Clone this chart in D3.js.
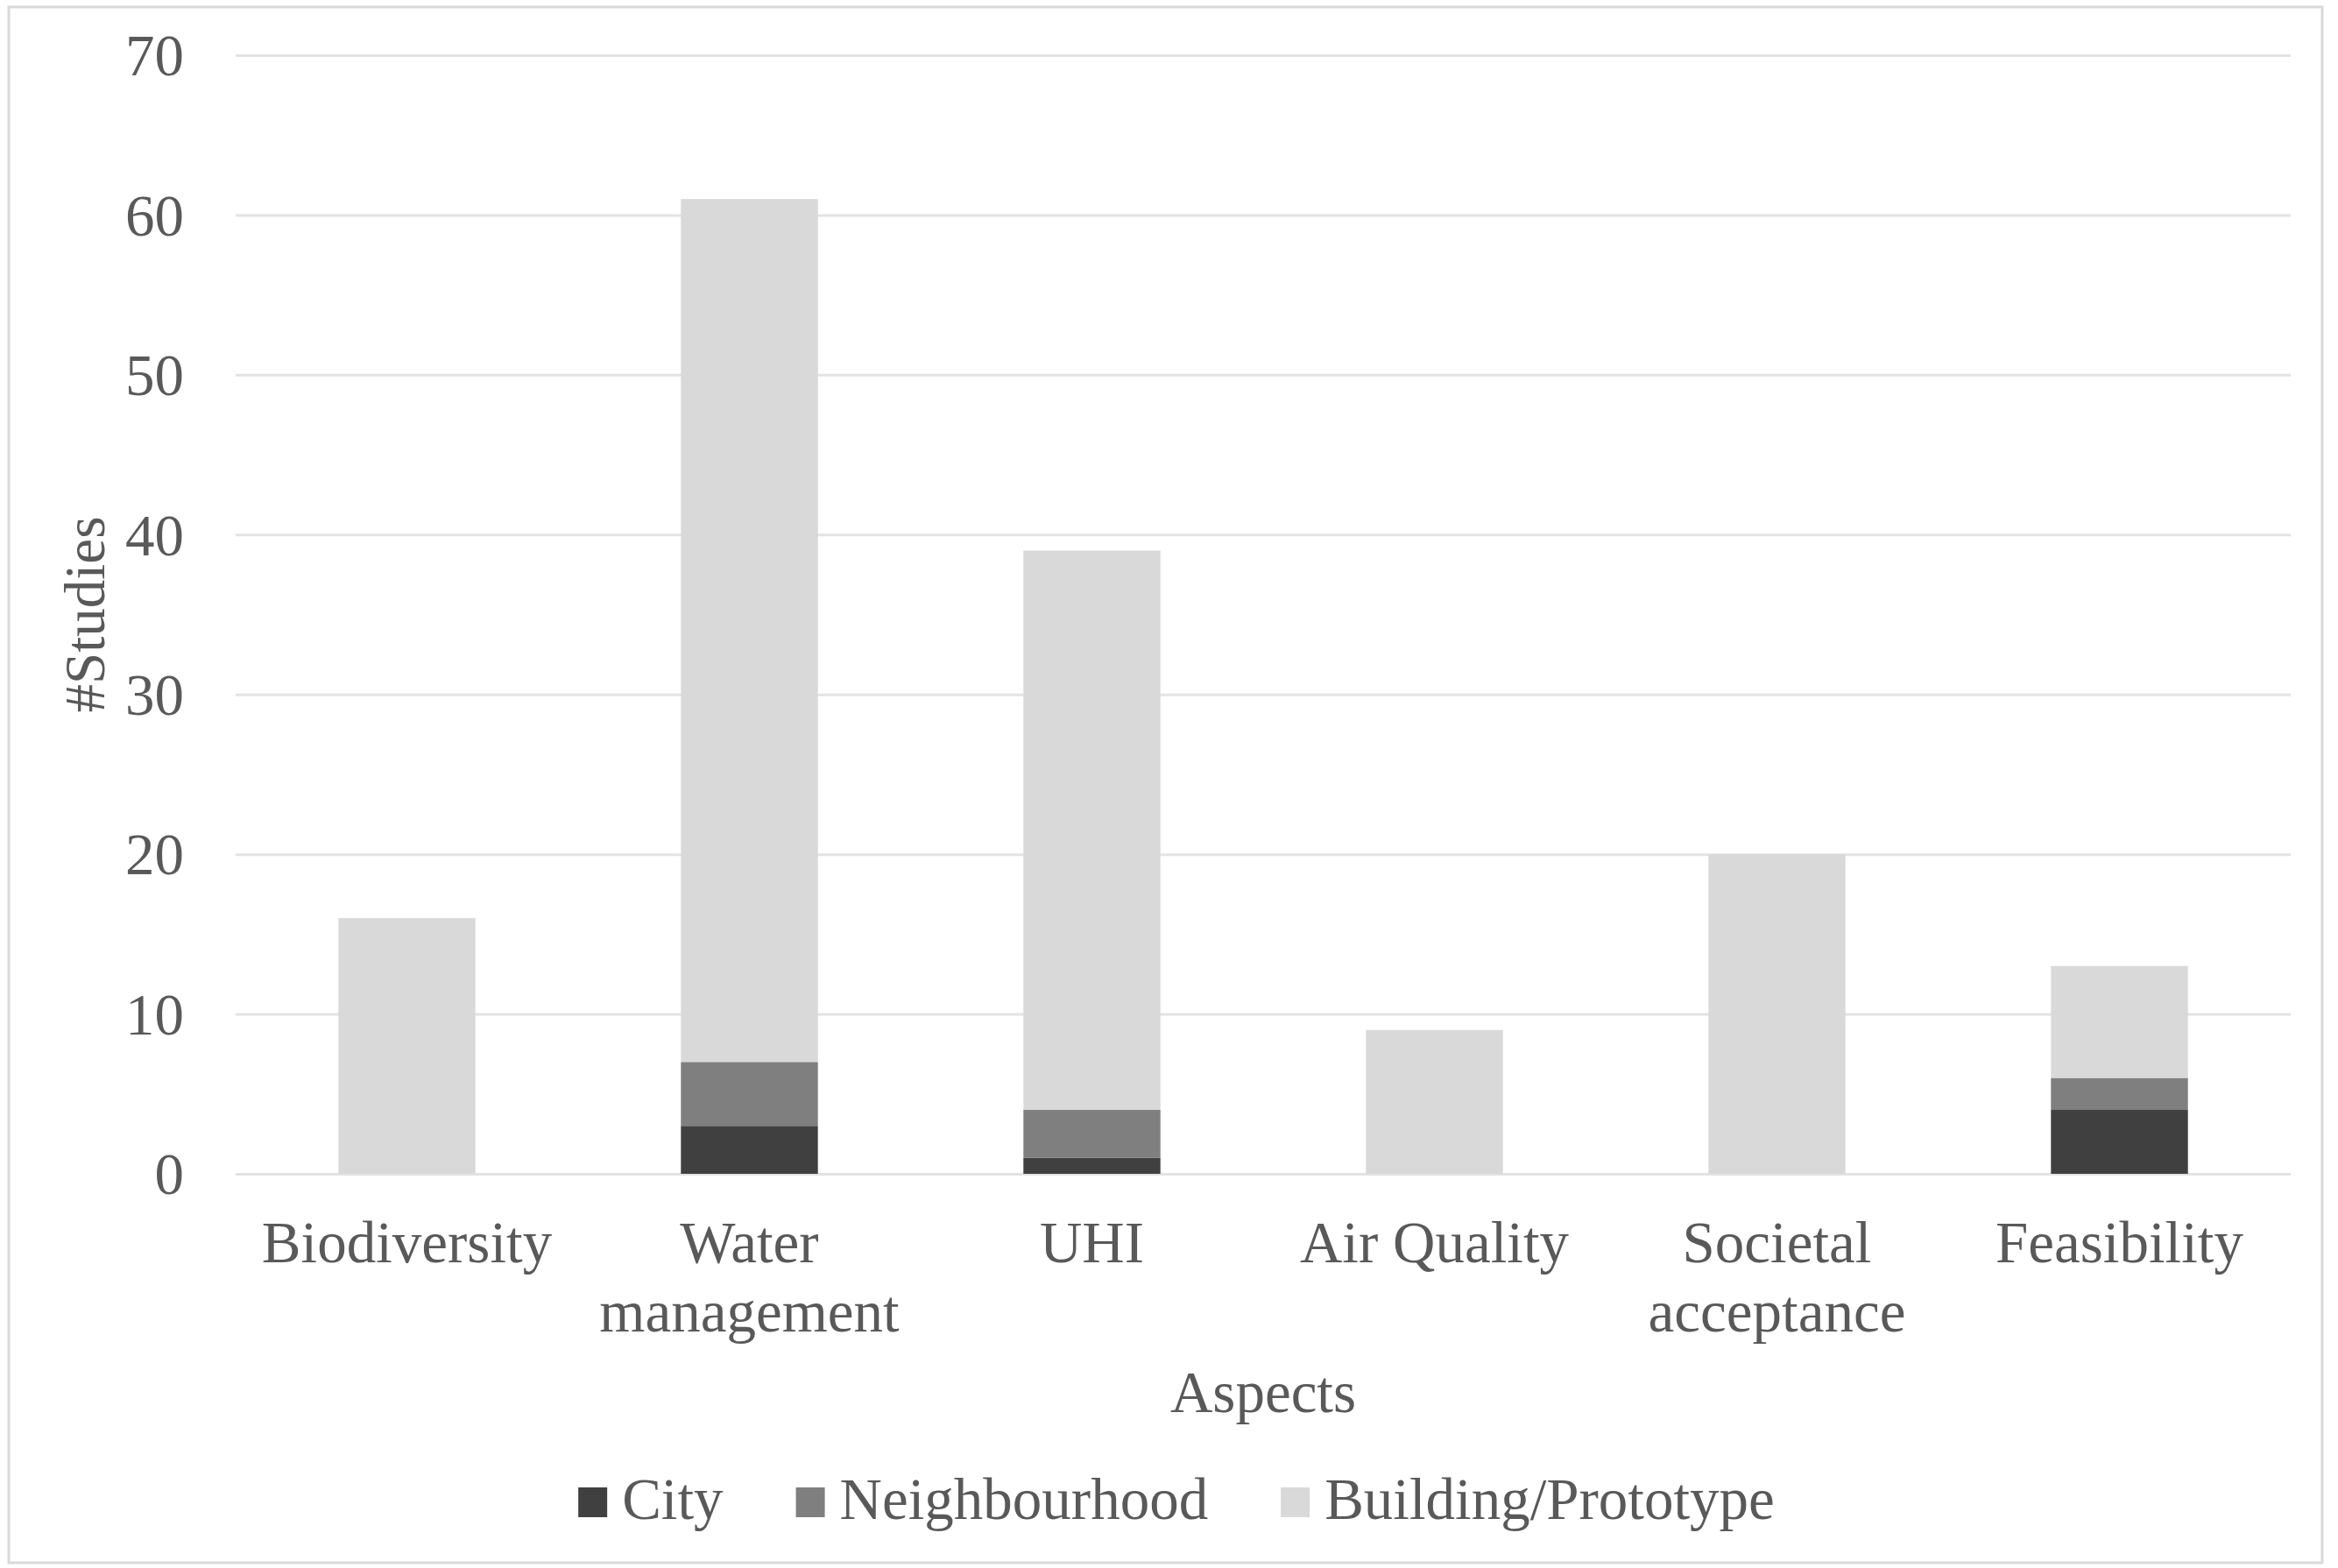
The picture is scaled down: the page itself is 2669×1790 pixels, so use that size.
<!DOCTYPE html>
<html>
<head>
<meta charset="utf-8">
<script src="https://cdnjs.cloudflare.com/ajax/libs/d3/7.8.5/d3.min.js"></script>
<style>
  body { margin: 0; background: #fff; }
  text { font-family: "Liberation Serif", "Times New Roman", serif; fill: #595959; }
</style>
</head>
<body>
<div class="canvas"></div>
<script>
const aspects = ['Biodiversity', 'Water management', 'UHI', 'Air Quality', 'Societal acceptance', 'Feasibility'];
const city = [0, 3, 1, 0, 0, 4];
const neighbourhood = [0, 4, 3, 0, 0, 2];
const building = [16, 54, 35, 9, 20, 7];
const seriesNames = ['City', 'Neighbourhood', 'Building/Prototype'];
const seriesColours = ['#404040', '#7f7f7f', '#d9d9d9'];
const yTicks = [0, 10, 20, 30, 40, 50, 60, 70];

const dims = { width: 2669, height: 1790 };
const plot = { left: 269, right: 2615, top: 63, bottom: 1340 };

const svg = d3.select('.canvas')
    .append('svg')
    .attr('width', dims.width)
    .attr('height', dims.height);

// chart border
svg.append('rect')
    .attr('x', 10).attr('y', 8)
    .attr('width', 2641).attr('height', 1776)
    .attr('fill', 'none')
    .attr('stroke', '#d9d9d9')
    .attr('stroke-width', 3);

const rows = aspects.map((a, i) => ({
    aspect: a,
    City: city[i],
    Neighbourhood: neighbourhood[i],
    'Building/Prototype': building[i]
}));

const stack = d3.stack().keys(seriesNames)(rows);

const x = d3.scaleBand()
    .domain(aspects)
    .range([plot.left, plot.right])
    .paddingInner(0.6)
    .paddingOuter(0.3);

const y = d3.scaleLinear()
    .domain([0, 70])
    .range([plot.bottom, plot.top]);

const colour = d3.scaleOrdinal(seriesNames, seriesColours);

// gridlines + y tick labels
const yAxis = svg.append('g')
    .attr('transform', `translate(${plot.left}, 0)`)
    .call(d3.axisLeft(y).tickValues(yTicks).tickSize(-(plot.right - plot.left)).tickPadding(59));
yAxis.select('.domain').remove();
yAxis.selectAll('.tick line').attr('stroke', '#e3e3e3').attr('stroke-width', 3);
yAxis.selectAll('.tick text')
    .attr('font-size', 67)
    .attr('dy', '0.34em')
    .style('font-family', '"Liberation Serif", serif')
    .attr('fill', '#595959');

// bars
svg.append('g')
    .selectAll('g')
    .data(stack)
    .join('g')
    .attr('fill', d => colour(d.key))
    .selectAll('rect')
    .data(d => d)
    .join('rect')
    .attr('x', d => x(d.data.aspect))
    .attr('width', x.bandwidth())
    .attr('y', d => y(d[1]))
    .attr('height', d => y(d[0]) - y(d[1]));

// category labels, wrapped like excel does
const xlab = svg.append('g');
aspects.forEach(a => {
    const t = xlab.append('text')
        .attr('text-anchor', 'middle')
        .attr('font-size', 67)
        .attr('x', x(a) + x.bandwidth() / 2)
        .attr('y', 1441)
        .text(a);
    if (t.node().getComputedTextLength() > x.step()) {
        t.text(null);
        a.split(' ').forEach((w, j) => {
            t.append('tspan')
                .attr('x', x(a) + x.bandwidth() / 2)
                .attr('y', 1441 + j * 79)
                .text(w);
        });
    }
});

// axis titles
svg.append('text')
    .attr('text-anchor', 'middle')
    .attr('font-size', 67)
    .attr('x', (plot.left + plot.right) / 2)
    .attr('y', 1612)
    .text('Aspects');

svg.append('text')
    .attr('text-anchor', 'middle')
    .attr('font-size', 65)
    .attr('transform', `translate(119, ${(plot.top + plot.bottom) / 2}) rotate(-90)`)
    .text('#Studies');

// legend
const legend = svg.append('g');
let cx = 0;
seriesNames.forEach(s => {
    const item = legend.append('g').attr('transform', `translate(${cx}, 0)`);
    item.append('rect')
        .attr('x', 0).attr('y', -36)
        .attr('width', 33).attr('height', 34)
        .attr('fill', colour(s));
    const t = item.append('text')
        .attr('x', 50).attr('y', 0)
        .attr('font-size', 67)
        .text(s);
    cx += 50 + t.node().getComputedTextLength() + 83;
});
const legendWidth = cx - 83;
legend.attr('transform', `translate(${1343 - legendWidth / 2}, 1734)`);
</script>
</body>
</html>
